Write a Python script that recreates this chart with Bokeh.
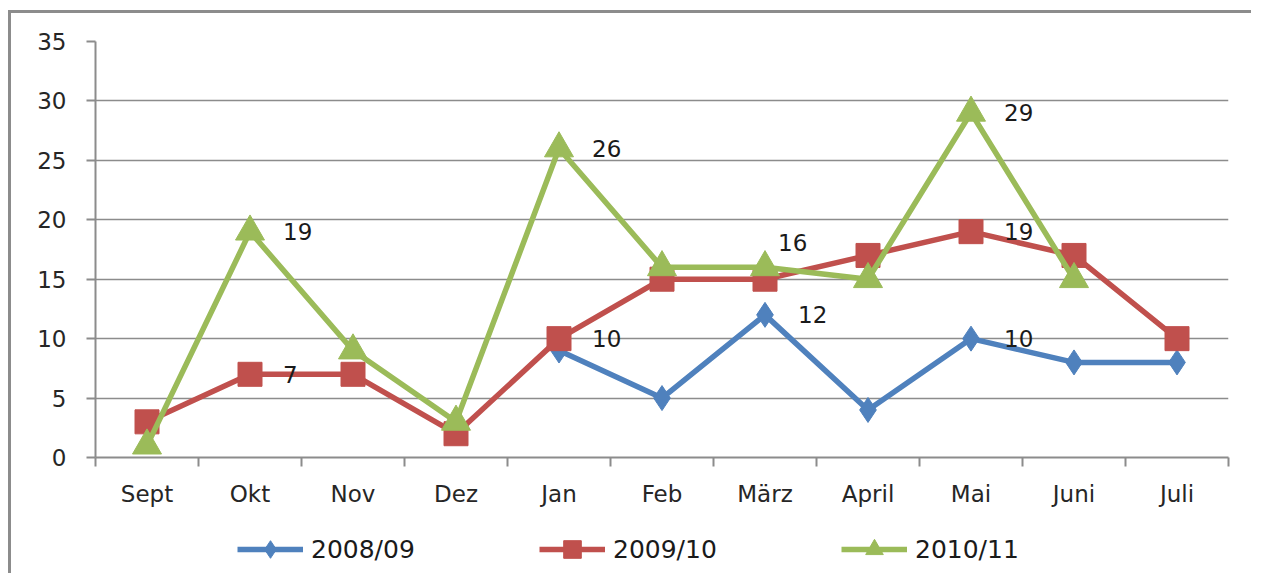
from bokeh.plotting import figure
from bokeh.models import (Range1d, FixedTicker, Legend, LegendItem, ColumnDataSource, Spacer)
from bokeh.layouts import column, row
from bokeh.core.properties import value
from bokeh.embed import file_html
from bokeh.resources import INLINE

months = ["Sept", "Okt", "Nov", "Dez", "Jan", "Feb", "März", "April", "Mai", "Juni", "Juli"]
s0809 = [None, None, None, None, 9, 5, 12, 4, 10, 8, 8]
s0910 = [3, 7, 7, 2, 10, 15, 15, 17, 19, 17, 10]
s1011 = [1, 19, 9, 3, 26, 16, 16, 15, 29, 15, None]
series_names = ["2008/09", "2009/10", "2010/11"]

# data labels: (series index, month)
label_series = [2, 1, 2, 1, 2, 0, 2, 1, 0]
label_months = ["Okt", "Okt", "Jan", "Jan", "März", "März", "Mai", "Mai", "Mai"]

FONT = "DejaVu Sans"
colors = ["#4F81BD", "#C0504D", "#9BBB59"]
markers = ["diamond", "square", "triangle"]
msizes = [25, 24, 29]

p = figure(width=1240, height=510, output_backend="svg", toolbar_location=None,
           x_range=Range1d(0.5, 11.5), y_range=Range1d(0, 35),
           min_border_left=84, min_border_right=23, min_border_top=28, min_border_bottom=66)
p.outline_line_color = None
p.background_fill_color = "white"
p.border_fill_color = "white"

xs = list(range(1, len(months) + 1))

# axes
p.xaxis.ticker = FixedTicker(ticks=xs, minor_ticks=[x + 0.5 for x in range(0, len(months) + 1)])
p.xaxis.major_label_overrides = {x: m for x, m in zip(xs, months)}
p.xaxis.major_tick_out = 0
p.xaxis.major_tick_in = 0
p.xaxis.minor_tick_out = 9
p.xaxis.minor_tick_in = 0
p.xaxis.minor_tick_line_color = "#8c8c8c"
p.xaxis.minor_tick_line_width = 2
p.xaxis.axis_line_color = "#8c8c8c"
p.xaxis.axis_line_width = 2
p.xaxis.major_label_standoff = 14
p.xgrid.grid_line_color = None

p.yaxis.ticker = FixedTicker(ticks=list(range(0, 36, 5)))
p.yaxis.major_tick_out = 9
p.yaxis.major_tick_in = 0
p.yaxis.minor_tick_line_color = None
p.yaxis.major_tick_line_color = "#8c8c8c"
p.yaxis.major_tick_line_width = 2
p.yaxis.axis_line_color = "#8c8c8c"
p.yaxis.axis_line_width = 2
p.yaxis.major_label_standoff = 20
p.ygrid.grid_line_color = "#8c8c8c"
p.ygrid.grid_line_width = 1.5

for ax in (p.xaxis, p.yaxis):
    ax.major_label_text_font = FONT
    ax.major_label_text_font_size = "23px"
    ax.major_label_text_color = "#262626"

# legend figure (its renderers draw the same series outside its visible range)
lf = figure(width=1240, height=50, output_backend="svg", toolbar_location=None,
            x_range=Range1d(-20, -19), y_range=Range1d(-20, -19),
            min_border_left=0, min_border_right=0, min_border_top=0, min_border_bottom=0)
lf.axis.visible = False
lf.grid.visible = False
lf.outline_line_color = None
lf.border_fill_color = "white"

items = []
all_series = [s0809, s0910, s1011]
for name, ser, c, mk, ms in zip(series_names, all_series, colors, markers, msizes):
    px = [x for x, v in zip(xs, ser) if v is not None]
    py = [v for v in ser if v is not None]
    src = ColumnDataSource(dict(x=px, y=py))
    p.line("x", "y", source=src, line_color=c, line_width=5.5)
    p.scatter("x", "y", source=src, marker=mk, size=ms, fill_color=c, line_color=c)
    l1 = lf.line("x", "y", source=src, line_color=c, line_width=5.5)
    l2 = lf.scatter("x", "y", source=src, marker=mk, size=ms, fill_color=c, line_color=c)
    items.append(LegendItem(label=name, renderers=[l1, l2]))

# data labels
lx = [months.index(m) + 1 for m in label_months]
ly = [all_series[s][months.index(m)] for s, m in zip(label_series, label_months)]
dx = [33 if m != "März" or s != 2 else 13 for s, m in zip(label_series, label_months)]
dy = [-25 if (m == "März" and s == 2) else 0 for s, m in zip(label_series, label_months)]
lsrc = ColumnDataSource(dict(x=lx, y=ly, t=[str(v) for v in ly], dx=dx, dy=dy))
p.text("x", "y", text="t", source=lsrc, x_offset="dx", y_offset="dy",
       text_font=value(FONT), text_font_size="23px", text_color="#1a1a1a",
       text_baseline="middle", text_align="left")

legend = Legend(items=items, orientation="horizontal", location=(142, 2),
                label_text_font=FONT, label_text_font_size="25px", label_text_color="#1a1a1a",
                glyph_width=66, glyph_height=44, label_standoff=8, spacing=118, label_width=110,
                padding=0, margin=0, border_line_color=None, background_fill_alpha=0)
lf.add_layout(legend, "center")

inner = column(p, lf, spacing=0,
               styles={"border-top": "3px solid #8c8c8c", "border-left": "3px solid #8c8c8c"})
layout = column(Spacer(height=10), row(Spacer(width=8), inner, spacing=0), spacing=0)
open("out.html", "w").write(file_html(layout, INLINE))
